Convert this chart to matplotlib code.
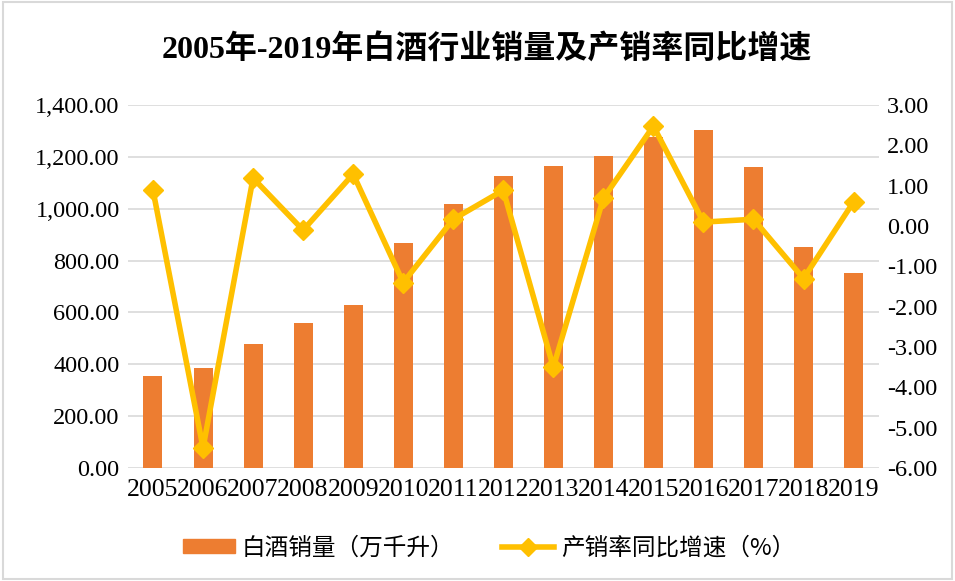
import matplotlib.pyplot as plt
from matplotlib.lines import Line2D
from matplotlib.patches import Patch
from matplotlib.ticker import FuncFormatter

plt.rcParams['font.family'] = ['Liberation Serif', 'Noto Sans CJK SC']

years = ['2005', '2006', '2007', '2008', '2009', '2010', '2011', '2012',
         '2013', '2014', '2015', '2016', '2017', '2018', '2019']
# 白酒销量（万千升）
sales = [356, 385, 480, 560, 628, 870, 1018, 1125,
         1165, 1203, 1276, 1303, 1160, 852, 752]
# 产销率同比增速（%）
growth = [0.89, -5.50, 1.19, -0.10, 1.29, -1.40, 0.17, 0.89,
          -3.50, 0.69, 2.48, 0.10, 0.17, -1.30, 0.60]

bar_color = '#ED7D31'
line_color = '#FFC000'

fig = plt.figure(figsize=(9.55, 5.81), dpi=100)
ax = fig.add_axes([0.134, 0.1945, 0.786, 0.6245])
x = list(range(len(years)))

ax.bar(x, sales, width=0.38, color=bar_color, zorder=2)
ax.set_ylim(0, 1400)
ax.set_yticks(range(0, 1401, 200))
ax.yaxis.set_major_formatter(FuncFormatter(lambda v, p: f'{v:,.2f}'))
ax.set_xlim(-0.5, len(years) - 0.5)
ax.set_xticks(x)
ax.set_xticklabels(years)
ax.grid(axis='y', color='#D9D9D9', linewidth=1.2, zorder=0)
ax.set_axisbelow(True)

ax2 = ax.twinx()
ax2.plot(x, growth, color=line_color, linewidth=4, marker='D', markersize=10,
         zorder=3)
ax2.set_ylim(-6, 3)
ax2.set_yticks(range(-6, 4))
ax2.yaxis.set_major_formatter(FuncFormatter(lambda v, p: f'{v:.2f}'))

for a in (ax, ax2):
    for s in a.spines.values():
        s.set_visible(False)
    a.tick_params(length=0, labelsize=17.5, colors='black')
ax.tick_params(axis='y', pad=6)
ax.tick_params(axis='x', pad=8, labelsize=18.5)
ax2.tick_params(axis='y', pad=6)

fig.text(0.51, 0.913, '2005年-2019年白酒行业销量及产销率同比增速',
         ha='center', va='center', fontsize=23, fontweight=600)

handles = [Patch(color=bar_color),
           Line2D([], [], color=line_color, linewidth=4, marker='D', markersize=9)]
fig.legend(handles, ['白酒销量（万千升）', '产销率同比增速（%）'],
           loc='center', bbox_to_anchor=(0.512, 0.057), ncol=2, frameon=False,
           prop={'family': ['Noto Sans CJK SC'], 'size': 17},
           handlelength=2.2, handleheight=0.52, columnspacing=2.0,
           handletextpad=0.3)

# light border around the whole chart
fig.patches.append(plt.Rectangle((0.003, 0.003), 0.994, 0.994, fill=False,
                                 edgecolor='#D9D9D9', linewidth=1.5,
                                 transform=fig.transFigure))

fig.savefig('out.png', dpi=100)
